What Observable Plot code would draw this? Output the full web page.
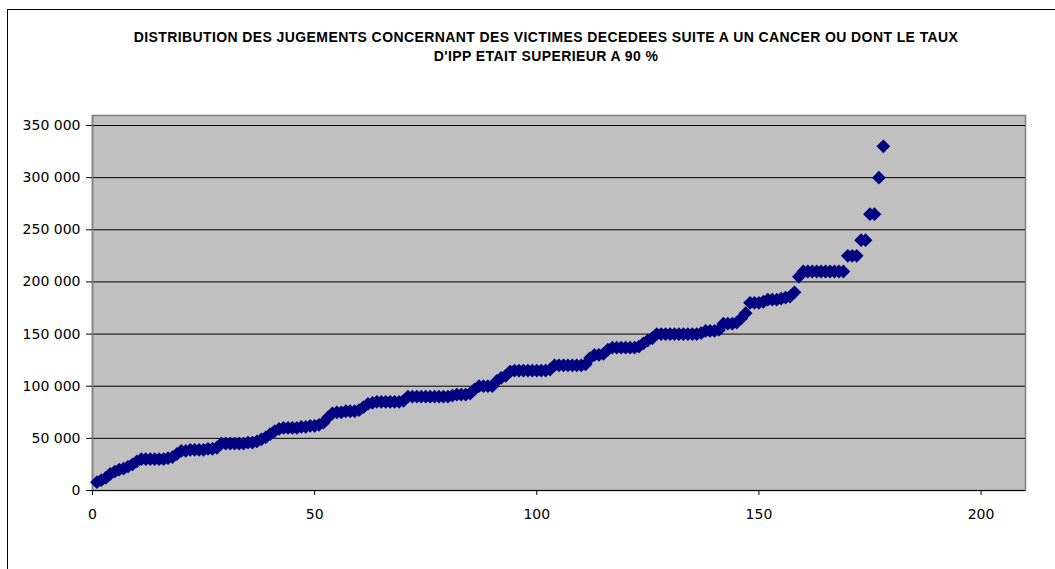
<!DOCTYPE html>
<html><head><meta charset="utf-8">
<script src="https://cdn.jsdelivr.net/npm/d3@7"></script>
<script src="https://cdn.jsdelivr.net/npm/@observablehq/plot@0.6"></script>
<style>
body{margin:0;background:#fff;overflow:hidden;}
#wrap{position:relative;width:1055px;height:569px;}
#frame{position:absolute;left:7px;top:9px;width:1100px;height:600px;border-left:1px solid #000;border-top:1px solid #000;pointer-events:none;}
#title{position:absolute;left:46px;width:1000px;top:28px;text-align:center;font:bold 14px "Liberation Sans",Arial,sans-serif;letter-spacing:0.4px;line-height:19px;color:#000;}
#chart{position:absolute;left:0;top:0;}
</style></head><body>
<div id="wrap"><div id="chart"></div><div id="title"></div><div id="frame"></div></div>
<script>
const titleLines = [
  "DISTRIBUTION DES JUGEMENTS CONCERNANT DES VICTIMES DECEDEES SUITE A UN CANCER OU DONT LE TAUX",
  "D'IPP ETAIT SUPERIEUR A 90 %"
];
const xTicks = [0, 50, 100, 150, 200];
const yTicks = [0, 50000, 100000, 150000, 200000, 250000, 300000, 350000];
// amounts of the judgements, sorted ascending (rank 1..178)
const amounts = [
  8000, 10000, 12000, 16000, 18000, 20000, 21000, 23000, 25000, 28000,
  30000, 30000, 30000, 30000, 30000, 30000, 31000, 32000, 35000, 38000,
  38000, 39000, 39000, 39000, 39000, 40000, 40000, 41000, 45000, 45000,
  45000, 45000, 45000, 45000, 46000, 46000, 47000, 49000, 51000, 54000,
  57000, 59000, 60000, 60000, 60000, 60000, 61000, 61000, 62000, 62000,
  63000, 65000, 70000, 74000, 75000, 75000, 76000, 76000, 76000, 77000,
  80000, 83000, 84000, 85000, 85000, 85000, 85000, 85000, 85000, 86000,
  90000, 90000, 90000, 90000, 90000, 90000, 90000, 90000, 90000, 90000,
  91000, 92000, 92000, 92000, 93000, 97000, 100000, 100000, 100000, 100000,
  105000, 108000, 110000, 114000, 115000, 115000, 115000, 115000, 115000, 115000,
  115000, 115000, 116000, 120000, 120000, 120000, 120000, 120000, 120000, 120000,
  121000, 127000, 130000, 130000, 131000, 135000, 137000, 137000, 137000, 137000,
  137000, 137000, 138000, 141000, 144000, 146000, 150000, 150000, 150000, 150000,
  150000, 150000, 150000, 150000, 150000, 150000, 151000, 153000, 153000, 153000,
  154000, 160000, 160000, 160000, 161000, 165000, 170000, 180000, 180000, 180000,
  181000, 183000, 183000, 183000, 184000, 185000, 186000, 190000, 205000, 210000,
  210000, 210000, 210000, 210000, 210000, 210000, 210000, 210000, 210000, 225000,
  225000, 225000, 240000, 240000, 265000, 265000, 300000, 330000
];

document.getElementById("title").innerHTML = titleLines.join("<br>");

const data = amounts.map((v, i) => ({rank: i + 1, amount: v}));
const fmt = d => d3.format(",")(d).replace(/,/g, " ");

const chart = Plot.plot({
  width: 1055,
  height: 569,
  marginLeft: 92,
  marginRight: 30,
  marginTop: 115,
  marginBottom: 79,
  style: {background: "transparent", fontFamily: "DejaVu Sans, sans-serif", fontSize: "14px", color: "#000"},
  x: {domain: [0, 210], axis: null},
  y: {domain: [0, 359600], axis: null},
  marks: [
    Plot.frame({fill: "#c0c0c0", stroke: "#808080", strokeWidth: 1.5}),
    Plot.ruleY(yTicks.filter(d => d > 0), {stroke: "#000", strokeWidth: 1}),
    Plot.ruleY([0], {stroke: "#000", strokeWidth: 1.2}),
    Plot.ruleX([0], {stroke: "#808080", strokeWidth: 1.5}),
    Plot.axisY(yTicks, {tickSize: 6, tickPadding: 6, tickFormat: fmt, stroke: "#000", label: null}),
    Plot.axisX(xTicks, {tickSize: 5, tickPadding: 14, tickFormat: d => String(d), stroke: "#000", label: null}),
    Plot.dot(data, {x: "rank", y: "amount", symbol: "diamond2", r: 6.2, fill: "#000080", stroke: null})
  ]
});
document.getElementById("chart").appendChild(chart);
</script>
</body></html>
